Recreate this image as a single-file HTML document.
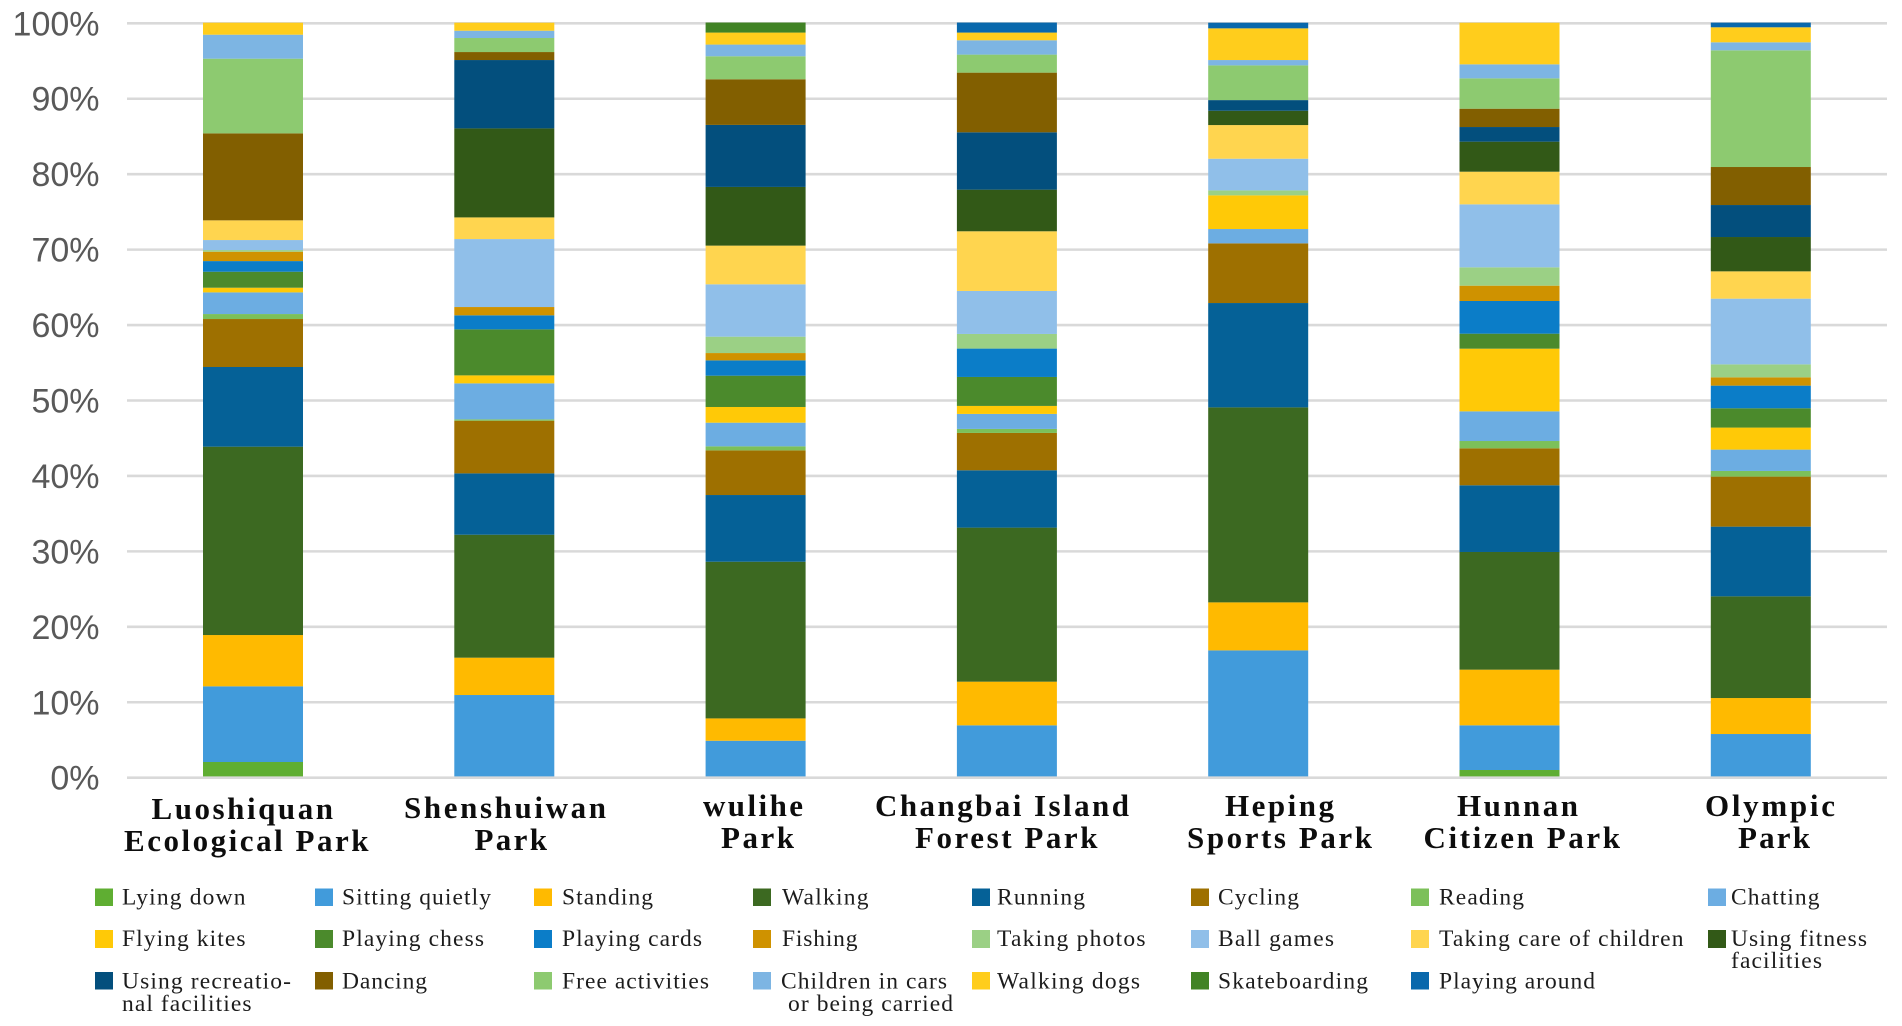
<!DOCTYPE html>
<html lang="en">
<head>
<meta charset="utf-8">
<title>Park activity composition</title>
<style>
html,body{margin:0;padding:0;background:#fff;width:1902px;height:1026px;overflow:hidden}
svg{display:block}
.tick{font-family:"Liberation Sans",sans-serif;font-size:34px;fill:#595959;text-anchor:end}
.cat{font-family:"Liberation Serif",serif;font-weight:bold;font-size:31px;fill:#0d0d0d}
.leg{font-family:"Liberation Serif",serif;font-size:23.5px;fill:#1c1c1c}
</style>
</head>
<body>
<svg id="chart" width="1902" height="1026" viewBox="0 0 1902 1026" xmlns="http://www.w3.org/2000/svg">
<rect x="0" y="0" width="1902" height="1026" fill="#ffffff"/>
<g id="grid"></g>
<g id="yticks"></g>
<g id="bars"></g>
<g id="base"></g>

<g>
<g><text class="cat" x="151.5" y="819" textLength="181.5" lengthAdjust="spacing">Luoshiquan</text><text class="cat" x="124" y="851" textLength="244.5" lengthAdjust="spacing">Ecological Park</text></g>
<g><text class="cat" x="404" y="818" textLength="202" lengthAdjust="spacing">Shenshuiwan</text><text class="cat" x="474.5" y="850" textLength="72.5" lengthAdjust="spacing">Park</text></g>
<g><text class="cat" x="703" y="816" textLength="100" lengthAdjust="spacing">wulihe</text><text class="cat" x="721" y="848" textLength="73" lengthAdjust="spacing">Park</text></g>
<g><text class="cat" x="875" y="816" textLength="254" lengthAdjust="spacing">Changbai Island</text><text class="cat" x="915" y="848" textLength="182.5" lengthAdjust="spacing">Forest Park</text></g>
<g><text class="cat" x="1225" y="816" textLength="109" lengthAdjust="spacing">Heping</text><text class="cat" x="1187" y="848" textLength="185" lengthAdjust="spacing">Sports Park</text></g>
<g><text class="cat" x="1457" y="816" textLength="121" lengthAdjust="spacing">Hunnan</text><text class="cat" x="1423.5" y="848" textLength="196.5" lengthAdjust="spacing">Citizen Park</text></g>
<g><text class="cat" x="1705" y="816" textLength="130" lengthAdjust="spacing">Olympic</text><text class="cat" x="1738" y="848" textLength="72" lengthAdjust="spacing">Park</text></g>
</g>

<g>
<g><rect x="95" y="888.5" width="18" height="17.5" fill="#5fae32"/><text class="leg" x="122" y="904.5" textLength="123.5" lengthAdjust="spacing">Lying down</text></g>
<g><rect x="315" y="888.5" width="18" height="17.5" fill="#419bdb"/><text class="leg" x="342" y="904.5" textLength="149" lengthAdjust="spacing">Sitting quietly</text></g>
<g><rect x="534" y="888.5" width="18" height="17.5" fill="#ffba00"/><text class="leg" x="562" y="904.5" textLength="91" lengthAdjust="spacing">Standing</text></g>
<g><rect x="753" y="888.5" width="18" height="17.5" fill="#3c6921"/><text class="leg" x="782" y="904.5" textLength="86.5" lengthAdjust="spacing">Walking</text></g>
<g><rect x="972" y="888.5" width="18" height="17.5" fill="#056197"/><text class="leg" x="997" y="904.5" textLength="88" lengthAdjust="spacing">Running</text></g>
<g><rect x="1191" y="888.5" width="18" height="17.5" fill="#9e7000"/><text class="leg" x="1218" y="904.5" textLength="81" lengthAdjust="spacing">Cycling</text></g>
<g><rect x="1411" y="888.5" width="18" height="17.5" fill="#7cc05a"/><text class="leg" x="1439" y="904.5" textLength="85" lengthAdjust="spacing">Reading</text></g>
<g><rect x="1708" y="888.5" width="18" height="17.5" fill="#6cade2"/><text class="leg" x="1731" y="904.5" textLength="88.5" lengthAdjust="spacing">Chatting</text></g>

<g><rect x="95" y="930" width="18" height="18" fill="#ffc907"/><text class="leg" x="122" y="946" textLength="123.5" lengthAdjust="spacing">Flying kites</text></g>
<g><rect x="315" y="930" width="18" height="18" fill="#4b8a2c"/><text class="leg" x="342" y="946" textLength="142" lengthAdjust="spacing">Playing chess</text></g>
<g><rect x="534" y="930" width="18" height="18" fill="#0b7dc8"/><text class="leg" x="562" y="946" textLength="140" lengthAdjust="spacing">Playing cards</text></g>
<g><rect x="753" y="930" width="18" height="18" fill="#cf9200"/><text class="leg" x="782" y="946" textLength="75.5" lengthAdjust="spacing">Fishing</text></g>
<g><rect x="972" y="930" width="18" height="18" fill="#9bd085"/><text class="leg" x="997" y="946" textLength="148.5" lengthAdjust="spacing">Taking photos</text></g>
<g><rect x="1191" y="930" width="18" height="18" fill="#90bfe9"/><text class="leg" x="1218" y="946" textLength="116" lengthAdjust="spacing">Ball games</text></g>
<g><rect x="1411" y="930" width="18" height="18" fill="#ffd54f"/><text class="leg" x="1439" y="946" textLength="244.5" lengthAdjust="spacing">Taking care of children</text></g>
<g><rect x="1708" y="930" width="18" height="18" fill="#325917"/><text class="leg" x="1731" y="946" textLength="136" lengthAdjust="spacing">Using fitness</text><text class="leg" x="1731" y="968" textLength="91" lengthAdjust="spacing">facilities</text></g>

<g><rect x="95" y="972" width="18" height="17.5" fill="#034f7d"/><text class="leg" x="122" y="988.5" textLength="169" lengthAdjust="spacing">Using recreatio-</text><text class="leg" x="122" y="1011" textLength="129.5" lengthAdjust="spacing">nal facilities</text></g>
<g><rect x="315" y="972" width="18" height="17.5" fill="#825f00"/><text class="leg" x="342" y="988.5" textLength="85" lengthAdjust="spacing">Dancing</text></g>
<g><rect x="534" y="972" width="18" height="17.5" fill="#8dca70"/><text class="leg" x="562" y="988.5" textLength="147" lengthAdjust="spacing">Free activities</text></g>
<g><rect x="753" y="972" width="18" height="17.5" fill="#7db5e3"/><text class="leg" x="781" y="988.5" textLength="166" lengthAdjust="spacing">Children in cars</text><text class="leg" x="788" y="1011" textLength="165" lengthAdjust="spacing">or being carried</text></g>
<g><rect x="972" y="972" width="18" height="17.5" fill="#ffcd1c"/><text class="leg" x="997" y="988.5" textLength="143" lengthAdjust="spacing">Walking dogs</text></g>
<g><rect x="1191" y="972" width="18" height="17.5" fill="#418325"/><text class="leg" x="1218" y="988.5" textLength="150" lengthAdjust="spacing">Skateboarding</text></g>
<g><rect x="1411" y="972" width="18" height="17.5" fill="#0968ac"/><text class="leg" x="1439" y="988.5" textLength="156" lengthAdjust="spacing">Playing around</text></g>
</g>
</svg>

<script>
var categories = ["luoshiquan","shenshuiwan","wulihe","changbai","heping","hunnan","olympic"];
var tickValues = [0,10,20,30,40,50,60,70,80,90,100];
var tickLabels = ["0%","10%","20%","30%","40%","50%","60%","70%","80%","90%","100%"];

var lyingDown     = [2.08, 0,     0,     0,     0,     1.02,  0];
var sittingQuietly= [10.03,10.96, 4.9,   6.94,  16.88, 5.92,  5.79];
var standing      = [6.8,  4.95,  2.96,  5.79,  6.36,  7.38,  4.77];
var walking       = [24.97,16.3,  20.77, 20.42, 25.85, 15.6,  13.48];
var running       = [10.56,8.13,  8.84,  7.6,   13.83, 8.84,  9.24];
var cycling       = [6.36, 6.98,  5.92,  4.95,  7.91,  4.9,   6.63];
var reading       = [0.66, 0.18,  0.53,  0.53,  0,     0.97,  0.75];
var chatting      = [2.87, 4.77,  3.14,  1.99,  1.9,   3.93,  2.83];
var flyingKites   = [0.62, 1.06,  2.08,  1.06,  4.46,  8.31,  2.92];
var playingChess  = [2.12, 6.1,   4.15,  3.84,  0,     1.99,  2.56];
var playingCards  = [1.41, 1.86,  2.03,  3.76,  0,     4.33,  3.0];
var fishing       = [1.24, 1.1,   0.97,  0,     0,     2.03,  1.1];
var takingPhotos  = [0.22, 0,     2.17,  1.94,  0.66,  2.43,  1.72];
var ballGames     = [1.33, 9.01,  6.94,  5.7,   4.2,   8.35,  8.71];
var takingCare    = [2.61, 2.87,  5.13,  7.91,  4.46,  4.33,  3.62];
var fitness       = [0,    11.8,  7.78,  5.52,  1.9,   3.98,  4.55];
var recreational  = [0,    9.06,  8.22,  7.6,   1.41,  1.94,  4.24];
var dancing       = [11.53,1.06,  6.05,  7.91,  0,     2.43,  5.04];
var freeActivities= [9.9,  1.86,  3.05,  2.39,  4.6,   4.02,  15.47];
var childrenInCars= [3.18, 0.97,  1.55,  1.9,   0.71,  1.86,  1.06];
var walkingDogs   = [1.59, 1.06,  1.59,  1.02,  4.2,   5.52,  1.99];
var skateboarding = [0,    0,     1.33,  0,     0,     0,     0];
var playingAround = [0,    0,     0,     1.33,  0.75,  0,     0.62];

var seriesNames = ["lying-down","sitting-quietly","standing","walking","running","cycling","reading","chatting","flying-kites","playing-chess","playing-cards","fishing","taking-photos","ball-games","taking-care-of-children","using-fitness","using-recreational","dancing","free-activities","children-in-cars","walking-dogs","skateboarding","playing-around"];
var seriesValues = [lyingDown,sittingQuietly,standing,walking,running,cycling,reading,chatting,flyingKites,playingChess,playingCards,fishing,takingPhotos,ballGames,takingCare,fitness,recreational,dancing,freeActivities,childrenInCars,walkingDogs,skateboarding,playingAround];
var seriesColors = ["#5fae32","#419bdb","#ffba00","#3c6921","#056197","#9e7000","#7cc05a","#6cade2","#ffc907","#4b8a2c","#0b7dc8","#cf9200","#9bd085","#90bfe9","#ffd54f","#325917","#034f7d","#825f00","#8dca70","#7db5e3","#ffcd1c","#418325","#0968ac"];

var NS = "http://www.w3.org/2000/svg";
function yScale(v){ return 777.7 - v * 7.544; }
function xCenter(i){ return 253 + i * 251.3; }
var barWidth = 100;

var gridG = document.getElementById("grid");
var tickG = document.getElementById("yticks");
var baseG = document.getElementById("base");
var barsG = document.getElementById("bars");

tickValues.forEach(function(t, i){
  var line = document.createElementNS(NS, "line");
  line.setAttribute("x1", 127);
  line.setAttribute("x2", 1887);
  line.setAttribute("y1", yScale(t));
  line.setAttribute("y2", yScale(t));
  line.setAttribute("stroke", "#d9d9d9");
  line.setAttribute("stroke-width", 2.6);
  
  
  (t === 0 ? baseG : gridG).appendChild(line);

  var label = document.createElementNS(NS, "text");
  label.setAttribute("class", "tick");
  label.setAttribute("x", 99.5);
  label.setAttribute("y", yScale(t) + 12);
  label.textContent = tickLabels[i];
  
  
  tickG.appendChild(label);
});

categories.forEach(function(cat, c){
  var cumulative = 0;
  seriesValues.forEach(function(values, s){
    var v = values[c];
    if (v <= 0) { return; }
    var rect = document.createElementNS(NS, "rect");
    rect.setAttribute("x", xCenter(c) - barWidth / 2);
    rect.setAttribute("width", barWidth);
    rect.setAttribute("y", yScale(cumulative + v));
    rect.setAttribute("height", yScale(cumulative) - yScale(cumulative + v));
    rect.setAttribute("fill", seriesColors[s]);
    
    
    barsG.appendChild(rect);
    cumulative += v;
  });
});
</script>
</body>
</html>
